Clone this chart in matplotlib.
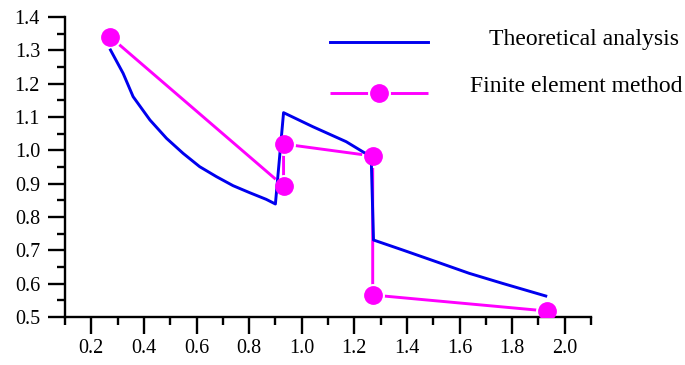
import matplotlib
matplotlib.use('Agg')
import matplotlib.pyplot as plt
from matplotlib.lines import Line2D
from matplotlib.ticker import MultipleLocator
import numpy as np

plt.rcParams['font.family'] = ['Liberation Serif', 'DejaVu Serif']

# Theoretical analysis (blue curve)
theory_x = [0.273, 0.321, 0.359, 0.423, 0.486, 0.549, 0.612, 0.676, 0.739, 0.802, 0.865, 0.900,
            0.931, 1.042, 1.169, 1.238, 1.264,
            1.273, 1.384, 1.511, 1.637, 1.763, 1.928]
theory_y = [1.301, 1.231, 1.161, 1.091, 1.036, 0.991, 0.951, 0.921, 0.894, 0.873, 0.853, 0.839,
            1.113, 1.071, 1.026, 0.993, 0.985,
            0.731, 0.701, 0.666, 0.631, 0.601, 0.563]

# Finite element method (magenta points)
fem_x = [0.271, 0.931, 0.931, 1.270, 1.270, 1.932]
fem_y = [1.341, 0.893, 1.019, 0.983, 0.566, 0.518]

labels = ['Theoretical analysis', 'Finite element method']
blue = '#0000ee'
magenta = '#ff00ff'

fig = plt.figure(figsize=(6.85, 3.65), dpi=100)
ax = fig.add_axes([65 / 685, 1 - 317 / 365, (591 - 65) / 685, 300 / 365])

# magenta line first, white rings to open gaps, then blue, then magenta dots
ax.plot(fem_x, fem_y, color=magenta, lw=2.1, zorder=2, solid_capstyle='butt')
ax.plot(fem_x, fem_y, ls='none', marker='o', ms=15.5, mfc='white', mec='white', zorder=2.5)
ax.plot(theory_x, theory_y, color=blue, lw=2.1, zorder=3)
ax.plot(fem_x, fem_y, ls='none', marker='o', ms=12.5, mfc=magenta, mec=magenta, zorder=4)

ax.set_xlim(0.1, 2.1)
ax.set_ylim(0.5, 1.4)
ax.xaxis.set_minor_locator(MultipleLocator(0.1))
ax.yaxis.set_minor_locator(MultipleLocator(0.05))
ax.set_xticks([0.2, 0.4, 0.6, 0.8, 1.0, 1.2, 1.4, 1.6, 1.8, 2.0])
ax.set_xticklabels(['0.2', '0.4', '0.6', '0.8', '1.0', '1.2', '1.4', '1.6', '1.8', '2.0'])
ax.set_yticks(np.round(np.arange(0.5, 1.41, 0.1), 1))
ax.set_yticklabels([f'{v:.1f}' for v in np.arange(0.5, 1.41, 0.1)])

for s in ['top', 'right']:
    ax.spines[s].set_visible(False)
for s in ['left', 'bottom']:
    ax.spines[s].set_linewidth(1.7)
ax.tick_params(which='major', direction='out', length=12, width=1.7, labelsize=14.5)
ax.tick_params(which='minor', direction='out', length=6, width=1.7)
ax.tick_params(axis='y', which='major', pad=6)
ax.tick_params(axis='x', which='major', pad=4)

# legend drawn by hand so that text is right-aligned
y1 = 1 - 42 / 365
y2 = 1 - 93 / 365
x0, x1 = 330 / 685, 428 / 685
fig.add_artist(Line2D([x0, x1], [y1, y1], color=blue, lw=2.1, transform=fig.transFigure))
fig.add_artist(Line2D([x0, x1], [y2, y2], color=magenta, lw=2.1, transform=fig.transFigure,
                      solid_capstyle='butt'))
fig.add_artist(Line2D([(x0 + x1) / 2], [y2], ls='none', marker='o', ms=15.5, mfc='white',
                      mec='white', transform=fig.transFigure))
fig.add_artist(Line2D([(x0 + x1) / 2], [y2], ls='none', marker='o', ms=12.5, mfc=magenta,
                      mec=magenta, transform=fig.transFigure))
fig.text(679 / 685, 1 - 40 / 365, labels[0], ha='right', va='center', fontsize=17)
fig.text(683 / 685, 1 - 87 / 365, labels[1], ha='right', va='center', fontsize=17)

fig.savefig('out.png', dpi=100)
